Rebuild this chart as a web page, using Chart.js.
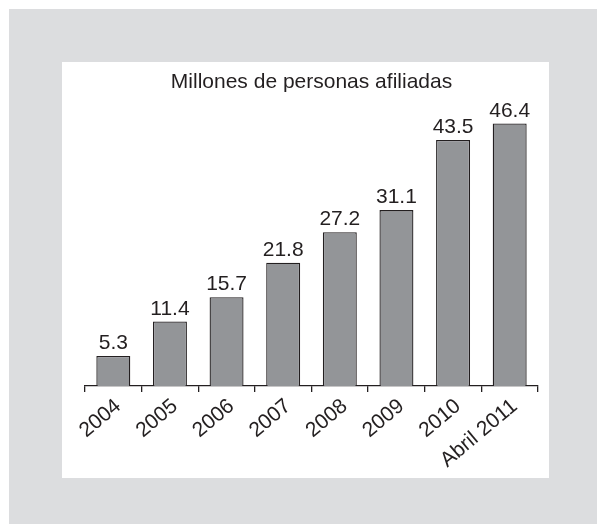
<!DOCTYPE html>
<html>
<head>
<meta charset="utf-8">
<script src="https://cdn.jsdelivr.net/npm/chart.js@4.4.0/dist/chart.umd.min.js"></script>
<style>
  body { margin: 0; background: #fff; }
  #fondo { position: absolute; left: 9px; top: 9px; width: 588px; height: 515px; background: #dcdddf; }
  #panel { position: absolute; left: 62px; top: 62px; width: 487px; height: 416px; background: #fff; }
  canvas { position: absolute; left: 0; top: 0; }
</style>
</head>
<body>
<div id="fondo"></div>
<div id="panel"><canvas id="grafico" width="487" height="416"></canvas></div>
<script>
// datos del gráfico
const anios = ['2004', '2005', '2006', '2007', '2008', '2009', '2010', 'Abril 2011'];
const afiliados = [5.3, 11.4, 15.7, 21.8, 27.2, 31.1, 43.5, 46.4];
const titulo = 'Millones de personas afiliadas';

const tinta = '#231f20';
const fuente = "'Liberation Sans', Arial, sans-serif";

// etiquetas de valor encima de cada barra
const etiquetasValor = {
    id: 'etiquetasValor',
    afterDatasetsDraw(chart) {
        const ctx = chart.ctx;
        const meta = chart.getDatasetMeta(0);
        ctx.save();
        ctx.font = '21px ' + fuente;
        ctx.fillStyle = tinta;
        ctx.textAlign = 'center';
        ctx.textBaseline = 'alphabetic';
        meta.data.forEach((barra, i) => {
            ctx.fillText(afiliados[i].toFixed(1), barra.x, barra.y - 7);
        });
        ctx.restore();
    }
};

const ctx = document.getElementById('grafico').getContext('2d');
new Chart(ctx, {
    type: 'bar',
    data: {
        labels: anios,
        datasets: [{
            data: afiliados,
            backgroundColor: '#939598',
            borderColor: tinta,
            borderWidth: 1.3,
            categoryPercentage: 1,
            barPercentage: 0.6
        }]
    },
    options: {
        responsive: false,
        animation: false,
        layout: { padding: { left: 23, right: 11, top: 0, bottom: 0 } },
        plugins: {
            legend: { display: false },
            tooltip: { enabled: false },
            title: {
                display: true,
                text: titulo,
                color: tinta,
                font: { family: fuente, size: 21, weight: 'normal' },
                padding: { top: 8, bottom: 8 }
            }
        },
        scales: {
            y: {
                display: false,
                min: 0,
                max: 50
            },
            x: {
                grid: {
                    drawOnChartArea: false,
                    drawTicks: true,
                    tickLength: 6,
                    color: tinta,
                    lineWidth: 1.3
                },
                border: { display: true, color: tinta, width: 1.3 },
                ticks: {
                    color: tinta,
                    font: { family: fuente, size: 21 },
                    minRotation: 40,
                    maxRotation: 40,
                    padding: 2,
                    labelOffset: 5
                },
                afterFit: escala => { escala.height = 92; }
            }
        }
    },
    plugins: [etiquetasValor]
});
</script>
</body>
</html>
